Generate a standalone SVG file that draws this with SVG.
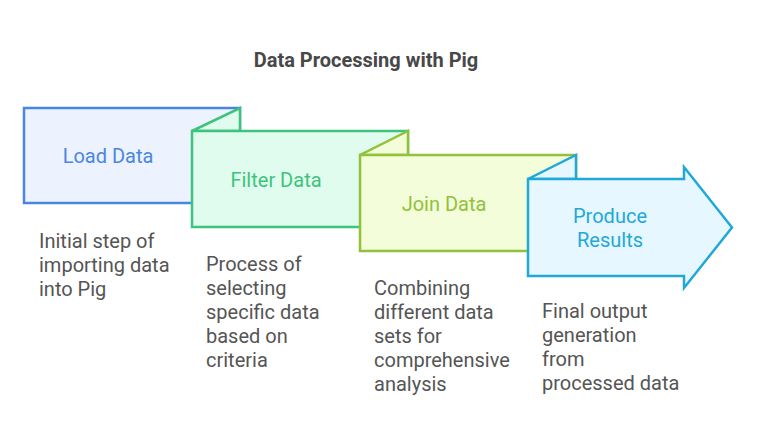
<svg xmlns="http://www.w3.org/2000/svg" width="757" height="444" viewBox="0 0 757 444">
<style>
text{font-family:Roboto,"Liberation Sans",sans-serif}
.title{font-size:20px;font-weight:bold;fill:#484848}
.lbl{font-size:20px;text-anchor:middle}
.desc{font-size:20px;fill:#555555}
.s{stroke-width:2.5;stroke-linejoin:miter}
</style>
<rect width="757" height="444" fill="#ffffff"/>
<text class="title" x="366" y="67" text-anchor="middle">Data Processing with Pig</text>
<g id="load">
<rect class="s" x="24" y="108" width="216" height="95" fill="#ecf3ff" stroke="#4a86e0"/>
<text class="lbl" x="108" y="163" fill="#4a86e0">Load Data</text>
<text class="desc" x="39" y="248">Initial step of</text>
<text class="desc" x="39" y="272">importing data</text>
<text class="desc" x="39" y="296">into Pig</text>
</g>
<g id="filter">
<path class="s" d="M192,131 L240,108 L240,131 Z" fill="#e0fcef" stroke="#3ec37c"/>
<rect class="s" x="192" y="131" width="216" height="96" fill="#e0fcef" stroke="#3ec37c"/>
<text class="lbl" x="276" y="187" fill="#3ec37c">Filter Data</text>
<text class="desc" x="206" y="271">Process of</text>
<text class="desc" x="206" y="295">selecting</text>
<text class="desc" x="206" y="319">specific data</text>
<text class="desc" x="206" y="343">based on</text>
<text class="desc" x="206" y="367">criteria</text>
</g>
<g id="join">
<path class="s" d="M360,155 L408,131 L408,155 Z" fill="#f3fdd9" stroke="#92c13a"/>
<rect class="s" x="360" y="155" width="216" height="96" fill="#f3fdd9" stroke="#92c13a"/>
<text class="lbl" x="444" y="211" fill="#92c13a">Join Data</text>
<text class="desc" x="374" y="295">Combining</text>
<text class="desc" x="374" y="319">different data</text>
<text class="desc" x="374" y="343">sets for</text>
<text class="desc" x="374" y="367">comprehensive</text>
<text class="desc" x="374" y="391">analysis</text>
</g>
<g id="produce">
<path class="s" d="M528,179 L576,155 L576,179 Z" fill="#e6f7ff" stroke="#1fa8d8"/>
<path class="s" d="M528,179 L684,179 L684,167 L732,227.5 L684,288 L684,276 L528,276 Z" fill="#e6f7ff" stroke="#1fa8d8"/>
<text class="lbl" x="610" y="223" fill="#1fa8d8">Produce</text>
<text class="lbl" x="610" y="247" fill="#1fa8d8">Results</text>
<text class="desc" x="542" y="318">Final output</text>
<text class="desc" x="542" y="342">generation</text>
<text class="desc" x="542" y="366">from</text>
<text class="desc" x="542" y="390">processed data</text>
</g>
<g id="connectors"></g>
</svg>
